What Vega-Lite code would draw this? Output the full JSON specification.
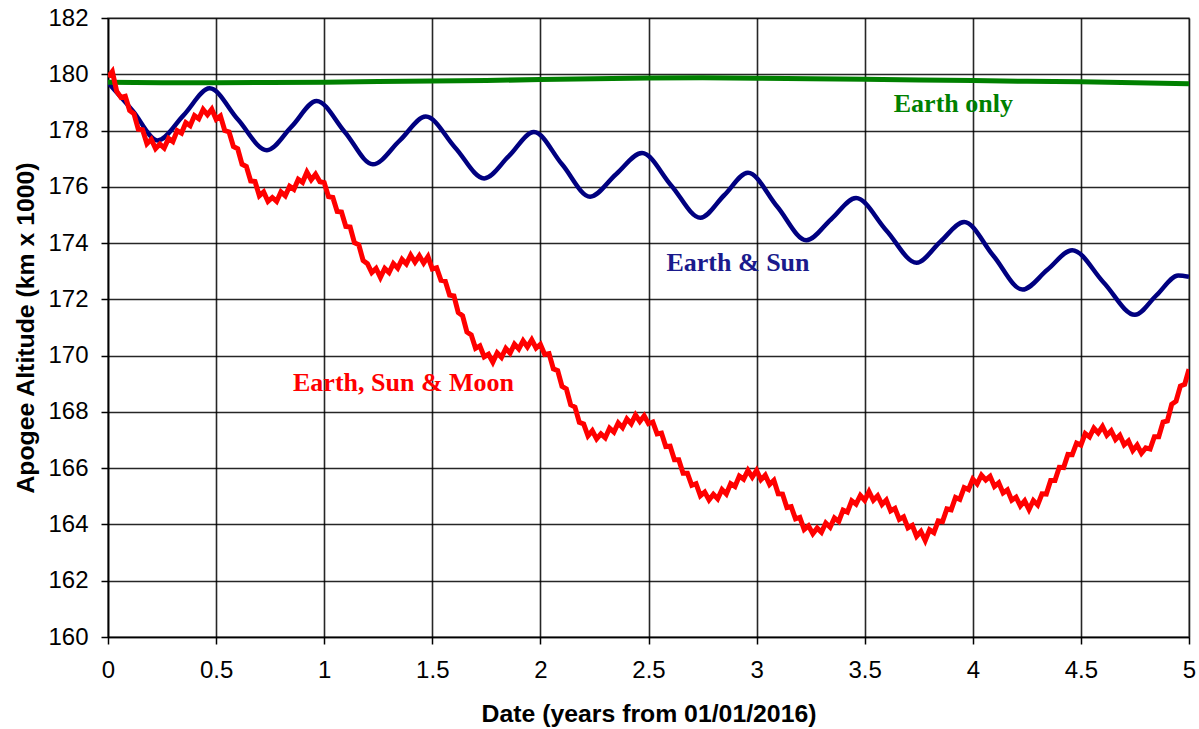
{
  "$schema": "https://vega.github.io/schema/vega-lite/v6.json",
  "width": 1081,
  "height": 619,
  "autosize": {"type": "none"},
  "padding": {"left": 108, "top": 18, "right": 10, "bottom": 92},
  "background": "white",
  "config": {
    "font": "Liberation Sans",
    "view": {"stroke": "#999999", "strokeWidth": 1.5},
    "axis": {
      "gridColor": "#000000", "gridWidth": 1.6, "gridOpacity": 0.85,
      "domainColor": "#000000", "domainWidth": 1.6,
      "tickColor": "#000000", "tickWidth": 1.5, "tickSize": 7,
      "labelColor": "#000000", "labelFont": "Liberation Sans", "labelFontSize": 24,
      "titleColor": "#000000", "titleFont": "Liberation Sans", "titleFontWeight": "bold", "titleFontSize": 24.8
    }
  },
  "datasets": {
    "green": [
      {"t":0,"alt":179.72},{"t":0.25,"alt":179.7},{"t":0.5,"alt":179.7},{"t":0.75,"alt":179.71},{"t":1.0,"alt":179.72},
      {"t":1.25,"alt":179.74},{"t":1.5,"alt":179.76},{"t":1.75,"alt":179.78},{"t":2.0,"alt":179.81},{"t":2.25,"alt":179.84},
      {"t":2.5,"alt":179.87},{"t":2.75,"alt":179.88},{"t":3.0,"alt":179.86},{"t":3.25,"alt":179.84},{"t":3.5,"alt":179.82},
      {"t":3.75,"alt":179.8},{"t":4.0,"alt":179.78},{"t":4.25,"alt":179.75},{"t":4.5,"alt":179.73},{"t":4.75,"alt":179.7},{"t":5.0,"alt":179.66}
    ],
    "blue": [
      {"t":0,"alt":179.7},{"t":0.115,"alt":178.7},{"t":0.23,"alt":177.65},{"t":0.35,"alt":178.55},{"t":0.47,"alt":179.5},
      {"t":0.6,"alt":178.4},{"t":0.735,"alt":177.3},{"t":0.85,"alt":178.15},{"t":0.965,"alt":179.05},{"t":1.095,"alt":177.95},
      {"t":1.225,"alt":176.8},{"t":1.35,"alt":177.65},{"t":1.47,"alt":178.5},{"t":1.605,"alt":177.4},{"t":1.74,"alt":176.3},
      {"t":1.855,"alt":177.1},{"t":1.97,"alt":177.95},{"t":2.1,"alt":176.8},{"t":2.23,"alt":175.65},{"t":2.35,"alt":176.45},
      {"t":2.47,"alt":177.2},{"t":2.605,"alt":176.05},{"t":2.74,"alt":174.9},{"t":2.85,"alt":175.7},{"t":2.96,"alt":176.5},
      {"t":3.095,"alt":175.3},{"t":3.23,"alt":174.1},{"t":3.345,"alt":174.85},{"t":3.46,"alt":175.6},{"t":3.6,"alt":174.45},
      {"t":3.74,"alt":173.3},{"t":3.85,"alt":174.05},{"t":3.96,"alt":174.75},{"t":4.095,"alt":173.55},{"t":4.23,"alt":172.35},
      {"t":4.345,"alt":173.05},{"t":4.46,"alt":173.75},{"t":4.605,"alt":172.6},{"t":4.75,"alt":171.45},{"t":4.85,"alt":172.15},
      {"t":4.95,"alt":172.85},{"t":5.0,"alt":172.8}
    ],
    "red": [
      {"t":0,"alt":179.9},{"t":0.02,"alt":180.1},{"t":0.04,"alt":179.4},{"t":0.06,"alt":179.18},{"t":0.08,"alt":179.22},
      {"t":0.1,"alt":178.71},{"t":0.12,"alt":178.6},{"t":0.14,"alt":178.05},{"t":0.16,"alt":178.03},{"t":0.18,"alt":177.53},
      {"t":0.2,"alt":177.69},{"t":0.22,"alt":177.36},{"t":0.24,"alt":177.52},{"t":0.26,"alt":177.38},{"t":0.28,"alt":177.72},
      {"t":0.3,"alt":177.61},{"t":0.32,"alt":178.0},{"t":0.34,"alt":177.91},{"t":0.36,"alt":178.28},{"t":0.38,"alt":178.17},
      {"t":0.4,"alt":178.53},{"t":0.42,"alt":178.42},{"t":0.44,"alt":178.75},{"t":0.46,"alt":178.56},{"t":0.48,"alt":178.76},
      {"t":0.5,"alt":178.4},{"t":0.52,"alt":178.52},{"t":0.54,"alt":178.0},{"t":0.56,"alt":177.95},{"t":0.58,"alt":177.43},
      {"t":0.6,"alt":177.35},{"t":0.62,"alt":176.8},{"t":0.64,"alt":176.72},{"t":0.66,"alt":176.21},{"t":0.68,"alt":176.19},
      {"t":0.7,"alt":175.68},{"t":0.72,"alt":175.82},{"t":0.74,"alt":175.48},{"t":0.76,"alt":175.62},{"t":0.78,"alt":175.48},
      {"t":0.8,"alt":175.82},{"t":0.82,"alt":175.68},{"t":0.84,"alt":176.02},{"t":0.86,"alt":175.91},{"t":0.88,"alt":176.27},
      {"t":0.9,"alt":176.16},{"t":0.92,"alt":176.52},{"t":0.94,"alt":176.25},{"t":0.96,"alt":176.45},{"t":0.98,"alt":176.18},
      {"t":1.0,"alt":176.15},{"t":1.02,"alt":175.65},{"t":1.04,"alt":175.62},{"t":1.06,"alt":175.12},{"t":1.08,"alt":175.1},
      {"t":1.1,"alt":174.59},{"t":1.12,"alt":174.57},{"t":1.14,"alt":174.01},{"t":1.16,"alt":173.94},{"t":1.18,"alt":173.38},
      {"t":1.2,"alt":173.27},{"t":1.22,"alt":172.95},{"t":1.24,"alt":173.1},{"t":1.26,"alt":172.78},{"t":1.28,"alt":173.1},
      {"t":1.3,"alt":172.95},{"t":1.32,"alt":173.27},{"t":1.34,"alt":173.11},{"t":1.36,"alt":173.42},{"t":1.38,"alt":173.26},
      {"t":1.4,"alt":173.57},{"t":1.42,"alt":173.32},{"t":1.44,"alt":173.55},{"t":1.46,"alt":173.29},{"t":1.48,"alt":173.52},
      {"t":1.5,"alt":173.08},{"t":1.52,"alt":173.12},{"t":1.54,"alt":172.68},{"t":1.56,"alt":172.65},{"t":1.58,"alt":172.15},
      {"t":1.6,"alt":172.12},{"t":1.62,"alt":171.53},{"t":1.64,"alt":171.42},{"t":1.66,"alt":170.84},{"t":1.68,"alt":170.74},
      {"t":1.7,"alt":170.26},{"t":1.72,"alt":170.35},{"t":1.74,"alt":169.96},{"t":1.76,"alt":170.05},{"t":1.78,"alt":169.77},
      {"t":1.8,"alt":170.1},{"t":1.82,"alt":169.94},{"t":1.84,"alt":170.26},{"t":1.86,"alt":170.09},{"t":1.88,"alt":170.41},
      {"t":1.9,"alt":170.24},{"t":1.92,"alt":170.53},{"t":1.94,"alt":170.31},{"t":1.96,"alt":170.56},{"t":1.98,"alt":170.27},
      {"t":2.0,"alt":170.4},{"t":2.02,"alt":170.04},{"t":2.04,"alt":170.07},{"t":2.06,"alt":169.53},{"t":2.08,"alt":169.47},
      {"t":2.1,"alt":168.91},{"t":2.12,"alt":168.82},{"t":2.14,"alt":168.25},{"t":2.16,"alt":168.17},{"t":2.18,"alt":167.63},
      {"t":2.2,"alt":167.57},{"t":2.22,"alt":167.15},{"t":2.24,"alt":167.33},{"t":2.26,"alt":167.04},{"t":2.28,"alt":167.22},
      {"t":2.3,"alt":167.08},{"t":2.32,"alt":167.42},{"t":2.34,"alt":167.28},{"t":2.36,"alt":167.61},{"t":2.38,"alt":167.44},
      {"t":2.4,"alt":167.75},{"t":2.42,"alt":167.58},{"t":2.44,"alt":167.89},{"t":2.46,"alt":167.66},{"t":2.48,"alt":167.86},
      {"t":2.5,"alt":167.58},{"t":2.52,"alt":167.64},{"t":2.54,"alt":167.22},{"t":2.56,"alt":167.25},{"t":2.58,"alt":166.77},
      {"t":2.6,"alt":166.78},{"t":2.62,"alt":166.3},{"t":2.64,"alt":166.3},{"t":2.66,"alt":165.82},{"t":2.68,"alt":165.82},
      {"t":2.7,"alt":165.39},{"t":2.72,"alt":165.45},{"t":2.74,"alt":165.02},{"t":2.76,"alt":165.15},{"t":2.78,"alt":164.87},
      {"t":2.8,"alt":165.07},{"t":2.82,"alt":164.91},{"t":2.84,"alt":165.24},{"t":2.86,"alt":165.08},{"t":2.88,"alt":165.45},
      {"t":2.9,"alt":165.35},{"t":2.92,"alt":165.72},{"t":2.94,"alt":165.61},{"t":2.96,"alt":165.92},{"t":2.98,"alt":165.68},
      {"t":3.0,"alt":165.92},{"t":3.02,"alt":165.59},{"t":3.04,"alt":165.75},{"t":3.06,"alt":165.42},{"t":3.08,"alt":165.57},
      {"t":3.1,"alt":165.09},{"t":3.12,"alt":165.08},{"t":3.14,"alt":164.6},{"t":3.16,"alt":164.63},{"t":3.18,"alt":164.2},
      {"t":3.2,"alt":164.25},{"t":3.22,"alt":163.82},{"t":3.24,"alt":163.95},{"t":3.26,"alt":163.67},{"t":3.28,"alt":163.87},
      {"t":3.3,"alt":163.72},{"t":3.32,"alt":164.05},{"t":3.34,"alt":163.9},{"t":3.36,"alt":164.23},{"t":3.38,"alt":164.11},
      {"t":3.4,"alt":164.51},{"t":3.42,"alt":164.44},{"t":3.44,"alt":164.84},{"t":3.46,"alt":164.72},{"t":3.48,"alt":165.03},
      {"t":3.5,"alt":164.86},{"t":3.52,"alt":165.17},{"t":3.54,"alt":164.86},{"t":3.56,"alt":165.02},{"t":3.58,"alt":164.71},
      {"t":3.6,"alt":164.87},{"t":3.62,"alt":164.48},{"t":3.64,"alt":164.57},{"t":3.66,"alt":164.18},{"t":3.68,"alt":164.27},
      {"t":3.7,"alt":163.88},{"t":3.72,"alt":163.97},{"t":3.74,"alt":163.58},{"t":3.76,"alt":163.75},{"t":3.78,"alt":163.43},
      {"t":3.8,"alt":163.81},{"t":3.82,"alt":163.71},{"t":3.84,"alt":164.13},{"t":3.86,"alt":164.1},{"t":3.88,"alt":164.55},
      {"t":3.9,"alt":164.52},{"t":3.92,"alt":164.96},{"t":3.94,"alt":164.89},{"t":3.96,"alt":165.31},{"t":3.98,"alt":165.24},
      {"t":4.0,"alt":165.61},{"t":4.02,"alt":165.44},{"t":4.04,"alt":165.75},{"t":4.06,"alt":165.58},{"t":4.08,"alt":165.71},
      {"t":4.1,"alt":165.35},{"t":4.12,"alt":165.48},{"t":4.14,"alt":165.12},{"t":4.16,"alt":165.23},{"t":4.18,"alt":164.86},
      {"t":4.2,"alt":164.97},{"t":4.22,"alt":164.66},{"t":4.24,"alt":164.84},{"t":4.26,"alt":164.53},{"t":4.28,"alt":164.85},
      {"t":4.3,"alt":164.69},{"t":4.32,"alt":165.09},{"t":4.34,"alt":165.08},{"t":4.36,"alt":165.56},{"t":4.38,"alt":165.56},
      {"t":4.4,"alt":166.03},{"t":4.42,"alt":166.02},{"t":4.44,"alt":166.49},{"t":4.46,"alt":166.48},{"t":4.48,"alt":166.89},
      {"t":4.5,"alt":166.82},{"t":4.52,"alt":167.23},{"t":4.54,"alt":167.11},{"t":4.56,"alt":167.42},{"t":4.58,"alt":167.25},
      {"t":4.6,"alt":167.48},{"t":4.62,"alt":167.17},{"t":4.64,"alt":167.33},{"t":4.66,"alt":167.02},{"t":4.68,"alt":167.17},
      {"t":4.7,"alt":166.83},{"t":4.72,"alt":166.97},{"t":4.74,"alt":166.63},{"t":4.76,"alt":166.82},{"t":4.78,"alt":166.53},
      {"t":4.8,"alt":166.72},{"t":4.82,"alt":166.68},{"t":4.84,"alt":167.12},{"t":4.86,"alt":167.12},{"t":4.88,"alt":167.64},
      {"t":4.9,"alt":167.68},{"t":4.92,"alt":168.27},{"t":4.94,"alt":168.38},{"t":4.96,"alt":168.92},{"t":4.98,"alt":168.98},
      {"t":5.0,"alt":169.52}
    ],
    "labels": [
      {"t":3.91,"alt":178.95,"label":"Earth only","c":"green"},
      {"t":2.914,"alt":173.3,"label":"Earth & Sun","c":"blue"},
      {"t":1.367,"alt":169.03,"label":"Earth, Sun & Moon","c":"red"}
    ]
  },
  "encoding": {
    "x": {
      "field": "t", "type": "quantitative",
      "scale": {"domain": [0, 5], "nice": false, "zero": false},
      "axis": {"values": [0,0.5,1,1.5,2,2.5,3,3.5,4,4.5,5], "format": ".1~f", "title": "Date (years from 01/01/2016)", "labelPadding": 14, "titlePadding": 19, "grid": true, "labelFlush": false}
    },
    "y": {
      "field": "alt", "type": "quantitative",
      "scale": {"domain": [160, 182], "nice": false, "zero": false},
      "axis": {"values": [160,162,164,166,168,170,172,174,176,178,180,182], "format": "d", "title": "Apogee Altitude (km x 1000)", "labelPadding": 13, "titlePadding": 9, "grid": true}
    }
  },
  "layer": [
    {"data": {"name": "blue"}, "mark": {"type": "line", "color": "#000080", "strokeWidth": 4.5, "interpolate": "monotone", "clip": true}},
    {"data": {"name": "green"}, "mark": {"type": "line", "color": "#008000", "strokeWidth": 5, "clip": true}},
    {"data": {"name": "red"}, "mark": {"type": "line", "color": "#FF0000", "strokeWidth": 5, "clip": true}},
    {
      "data": {"name": "labels"},
      "mark": {"type": "text", "font": "Liberation Serif", "fontWeight": "bold", "fontSize": 26, "align": "center", "baseline": "middle"},
      "encoding": {
        "text": {"field": "label"},
        "color": {"field": "c", "type": "nominal", "scale": {"domain": ["green","blue","red"], "range": ["#008000","#1a1a8c","#FF0000"]}, "legend": null}
      }
    }
  ]
}
